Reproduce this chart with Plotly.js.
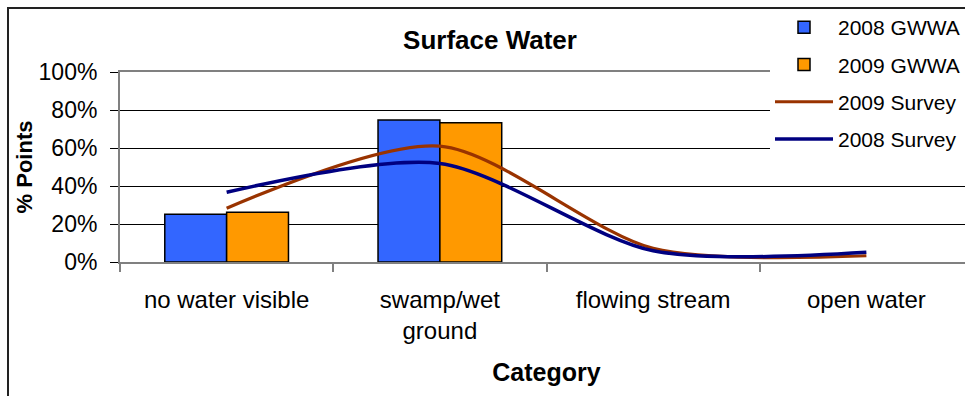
<!DOCTYPE html>
<html>
<head>
<meta charset="utf-8">
<script src="https://cdn.plot.ly/plotly-3.0.1.min.js"></script>
<style>
html, body { margin: 0; padding: 0; overflow: hidden; background: #fff; }
#chart { width: 980px; height: 396px; }
</style>
</head>
<body>
<div id="chart"></div>
<script>
// ---- data ----
const categories = ["no water visible", "swamp/wet<br>ground", "flowing stream", "open water"];
const gwwa2008 = [25.1, 74.7, null, null];
const gwwa2009 = [26.2, 73.3, null, null];
const survey2009 = [28.3, 61.0, 7.2, 3.3];
const survey2008 = [36.7, 51.9, 5.9, 5.1];
const yTicks = [0, 20, 40, 60, 80, 100];

const FONT = "Arial, 'Liberation Sans', sans-serif";

const traces = [
  { type: "bar", name: "2008 GWWA", x: categories, y: gwwa2008,
    marker: { color: "#3366FF", line: { color: "#000", width: 1.5 } } },
  { type: "bar", name: "2009 GWWA", x: categories, y: gwwa2009,
    marker: { color: "#FF9900", line: { color: "#000", width: 1.5 } } },
  { type: "scatter", mode: "lines", name: "2009 Survey", x: categories, y: survey2009,
    line: { color: "#993300", width: 3.2, shape: "spline", smoothing: 0.8 } },
  { type: "scatter", mode: "lines", name: "2008 Survey", x: categories, y: survey2008,
    line: { color: "#000080", width: 3.5, shape: "spline", smoothing: 0.8 } }
];
traces.forEach((t, i) => { t.legendgroup = "g" + i; t.hoverinfo = "skip"; });

const W = 980, H = 396, L = 120, R = 7, T = 72, B = 134;
const pw = W - L - R, ph = H - T - B;
const px = v => (v - L) / pw;
const py = v => (H - B - v) / ph;

const layout = {
  width: W, height: H,
  margin: { l: L, r: R, t: T, b: B, pad: 0 },
  paper_bgcolor: "#fff", plot_bgcolor: "#fff",
  font: { family: FONT, color: "#000" },
  showlegend: true,
  barmode: "group", bargap: 0.42, bargroupgap: 0,
  title: { text: "<b>Surface Water</b>", font: { size: 26, family: FONT, color: "#000" },
           xref: "paper", x: px(490), xanchor: "center",
           yref: "container", y: 1 - 40 / H, yanchor: "middle" },
  xaxis: {
    type: "category", tickson: "boundaries", ticks: "outside", ticklen: 8,
    tickcolor: "#808080", tickwidth: 2,
    showline: true, linecolor: "#808080", linewidth: 2, mirror: true,
    showgrid: false, zeroline: false,
    tickfont: { size: 24, family: FONT, color: "#000" },
    ticklabelstandoff: 15,
    title: { text: "<b>Category</b>", font: { size: 25, family: FONT, color: "#000" }, standoff: 20 },
    fixedrange: true
  },
  yaxis: {
    range: [0, 100], tickvals: yTicks, ticktext: yTicks.map(v => v + "%"),
    ticks: "outside", ticklen: 8, tickcolor: "#000", tickwidth: 1,
    showline: true, linecolor: "#808080", linewidth: 2, mirror: true,
    showgrid: true, gridcolor: "#000", gridwidth: 1, zeroline: false,
    tickfont: { size: 23, family: FONT, color: "#000" },
    ticklabelstandoff: 8,
    title: { text: "<b>% Points</b>", font: { size: 22, family: FONT, color: "#000" }, standoff: 0 },
    fixedrange: true
  },
  legend: {
    x: px(770), xanchor: "left", y: py(7), yanchor: "top",
    bgcolor: "rgba(0,0,0,0)", borderwidth: 0,
    font: { size: 21, family: FONT, color: "#000" },
    traceorder: "grouped", tracegroupgap: 7, itemwidth: 58
  },
  shapes: [
    { type: "rect", xref: "paper", yref: "paper",
      x0: px(770), x1: px(1000), y0: py(160), y1: py(9),
      line: { width: 0 }, fillcolor: "#fff", layer: "above" },
    { type: "rect", xref: "paper", yref: "paper",
      x0: px(8), x1: px(1000), y0: py(8), y1: py(420),
      line: { color: "#222", width: 2 }, fillcolor: "rgba(0,0,0,0)", layer: "above" }
  ]
};

Plotly.newPlot("chart", traces, layout, { displayModeBar: false, staticPlot: true });
</script>
</body>
</html>
